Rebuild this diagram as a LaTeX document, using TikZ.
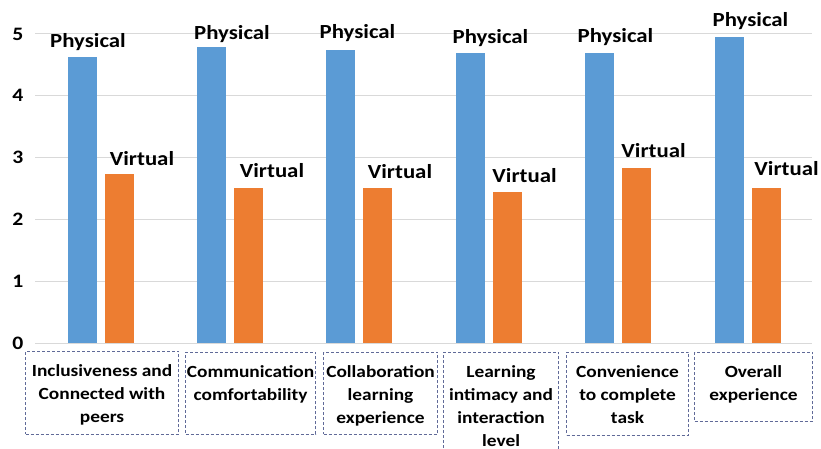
\documentclass[tikz,border=0pt]{standalone}
\usepackage{fontspec}
\setmainfont[FakeStretch=1.14]{Carlito}
\usetikzlibrary{positioning}
\definecolor{physblue}{RGB}{91,155,213}
\definecolor{virtorange}{RGB}{237,125,49}
\definecolor{boxslate}{RGB}{96,106,152}
\definecolor{gridgray}{RGB}{217,217,217}

\begin{document}
\begin{tikzpicture}[
    x=1pt, y=1pt,
    phys_bar/.style={fill=physblue, minimum width=29pt, inner sep=0pt, outer sep=0pt, anchor=south west},
    virt_bar/.style={fill=virtorange, minimum width=29pt, inner sep=0pt, outer sep=0pt, anchor=south west},
    bar_label/.style={font=\bfseries\fontsize{20}{24}\selectfont, anchor=base, inner sep=0pt},
    tick_label/.style={font=\bfseries\fontsize{19}{22}\selectfont, anchor=east, inner sep=0pt},
    cat_box/.style={draw=boxslate, line width=1.1pt, dash pattern=on 3pt off 2pt, inner sep=0pt, anchor=south west},
    cat_text/.style={font=\bfseries\fontsize{17}{23}\selectfont, align=center, inner sep=0pt},
    grid_line/.style={draw=gridgray, line width=1pt}
]

% --- FRAME ---
\useasboundingbox (0,0) rectangle (821,448);

% --- GRID & AXIS ---
\foreach \k in {0,...,5} {
  \coordinate (gl\k) at (35, {105+61.8*\k});
  \coordinate (gr\k) at (812, {105+61.8*\k});
  \draw[grid_line] (gl\k) -- (gr\k);
  \node[tick_label] (tick\k) at (23.5, {105+61.8*\k}) {\k};
}

% --- BARS ---
\foreach \i/\pv/\vv in {1/4.63/2.73, 2/4.79/2.51, 3/4.74/2.51, 4/4.69/2.44, 5/4.69/2.83, 6/4.95/2.51} {
  \node[phys_bar, minimum height={\pv*61.8}] (phys\i) at ({67.5+129.4*(\i-1)}, 105) {};
  \node[virt_bar, minimum height={\vv*61.8}] (virt\i) at ({104.5+129.4*(\i-1)}, 105) {};
}

% --- DATA LABELS ---
\foreach \i/\px/\py/\vx/\vy in {1/88/400/142/283, 2/232/408/272/271, 3/357.5/409/400/270, 4/490.5/404/524.5/266, 5/615.5/405/653.5/291, 6/750.5/421/786.5/273} {
  \node[bar_label] (lab_phys\i) at (\px,\py) {Physical};
  \node[bar_label] (lab_virt\i) at (\vx,\vy) {Virtual};
}

% --- CATEGORY BOXES ---
\node[cat_box, minimum width=153pt, minimum height=83pt] (box1) at (25,13) {};
\node[cat_box, minimum width=130pt, minimum height=82pt] (box2) at (185,13) {};
\node[cat_box, minimum width=114pt, minimum height=82pt] (box3) at (323,13) {};
\node[cat_box, minimum width=115pt, minimum height=107pt] (box4) at (443,-12) {};
\node[cat_box, minimum width=122pt, minimum height=83pt] (box5) at (566,12) {};
\node[cat_box, minimum width=118pt, minimum height=69pt] (box6) at (694,26) {};

\node[cat_text, below=13pt of box1.north] (cat1) {Inclusiveness and\\Connected with\\peers};
\node[cat_text, below=13pt of box2.north] (cat2) {Communication\\comfortability};
\node[cat_text, below=13pt of box3.north] (cat3) {Collaboration\\learning\\experience};
\node[cat_text, below=13pt of box4.north] (cat4) {Learning\\intimacy and\\interaction\\level};
\node[cat_text, below=13pt of box5.north] (cat5) {Convenience\\to complete\\task};
\node[cat_text, below=13pt of box6.north] (cat6) {Overall\\experience};

\end{tikzpicture}
\end{document}
